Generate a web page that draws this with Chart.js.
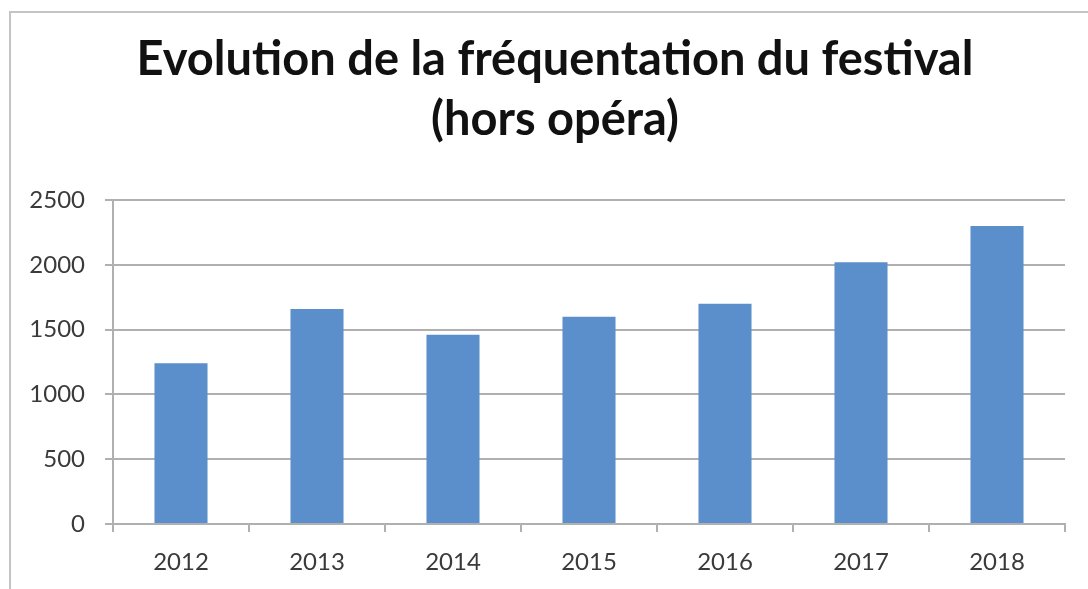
<!DOCTYPE html>
<html>
<head>
<meta charset="utf-8">
<script src="https://cdn.jsdelivr.net/npm/chart.js@4.4.0/dist/chart.umd.min.js"></script>
<style>
    html, body { margin: 0; padding: 0; background: #fff; }
    .frame {
        position: relative;
        width: 1088px;
        height: 589px;
        overflow: hidden;
    }
    /* bordure grise du cadre Excel (coupée en bas et à droite) */
    .frame::before {
        content: '';
        position: absolute;
        left: 9px;
        top: 11px;
        right: -10px;
        bottom: -10px;
        border-left: 2px solid #c4c4c4;
        border-top: 2px solid #c4c4c4;
        pointer-events: none;
    }
    canvas { display: block; }
</style>
</head>
<body>
<div class="frame">
    <canvas id="frequentationChart" width="1088" height="589"></canvas>
</div>
<script>
// données
const annees = ['2012', '2013', '2014', '2015', '2016', '2017', '2018'];
const frequentation = [1240, 1660, 1460, 1600, 1700, 2020, 2300];
const yTicks = [0, 500, 1000, 1500, 2000, 2500];
const titre = ['Evolution de la fréquentation du festival', '(hors opéra)'];

document.addEventListener('DOMContentLoaded', function() {
    const ctx = document.getElementById('frequentationChart');
    const gris = '#b0b0b0';
    const texte = '#3a3a3a';

    new Chart(ctx, {
        type: 'bar',
        data: {
            labels: annees,
            datasets: [{
                data: frequentation,
                backgroundColor: '#5a8fcb',
                borderWidth: 0,
                barPercentage: 0.39,
                categoryPercentage: 1
            }]
        },
        options: {
            responsive: false,
            animation: false,
            devicePixelRatio: 1,
            layout: {
                padding: { left: 30, right: 8, top: 0, bottom: 0 }
            },
            plugins: {
                legend: { display: false },
                tooltip: { enabled: false },
                title: {
                    display: true,
                    text: titre,
                    color: '#111',
                    font: { family: 'Lato', size: 47, weight: 'bold', lineHeight: 1.277 },
                    padding: { top: 30, bottom: 50 }
                }
            },
            scales: {
                x: {
                    grid: {
                        offset: true,
                        drawOnChartArea: false,
                        drawTicks: true,
                        tickLength: 8,
                        color: gris,
                        lineWidth: 2
                    },
                    border: { color: gris, width: 2 },
                    ticks: {
                        color: texte,
                        padding: 16,
                        font: { family: 'Lato', size: 24 }
                    },
                    afterFit: function(scale) { scale.height = 65; }
                },
                y: {
                    min: yTicks[0],
                    max: yTicks[yTicks.length - 1],
                    afterBuildTicks: function(scale) {
                        scale.ticks = yTicks.map(v => ({ value: v }));
                    },
                    grid: {
                        color: gris,
                        lineWidth: 2,
                        tickLength: 8
                    },
                    border: { color: gris, width: 2 },
                    ticks: {
                        color: texte,
                        padding: 20,
                        font: { family: 'Lato', size: 24 },
                        callback: function(value) { return String(value); }
                    },
                    afterFit: function(scale) { scale.width = 83; }
                },
                // axe vide à droite pour caler la zone de tracé
                yDroite: {
                    position: 'right',
                    display: true,
                    min: 0,
                    max: 2500,
                    grid: { display: false },
                    border: { display: false },
                    ticks: { display: false },
                    afterFit: function(scale) { scale.width = 15; }
                }
            }
        }
    });
});
</script>
</body>
</html>
